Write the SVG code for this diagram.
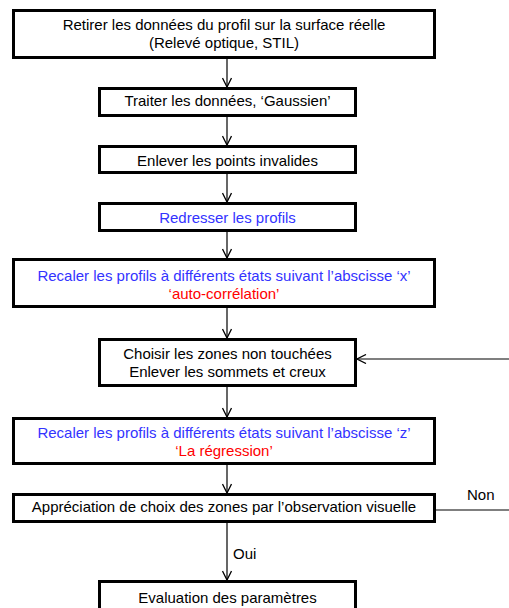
<svg xmlns="http://www.w3.org/2000/svg" width="509" height="608" viewBox="0 0 509 608">
<style>
.box{fill:#fff;stroke:#000;stroke-width:3}
text{font-family:"Liberation Sans",Arial,sans-serif;font-size:15px;fill:#000;text-anchor:middle}
.blue{fill:#3333ff}
.red{fill:#ff0000}
.lbl{text-anchor:start}
.c{stroke:#000;stroke-width:1.2;fill:none}
</style>
<defs>
<marker id="arr" viewBox="0 0 10 10" refX="10" refY="5" markerWidth="10" markerHeight="10" markerUnits="userSpaceOnUse" orient="auto">
<path d="M1,0.5 L10,5 L1,9.5" fill="none" stroke="#000" stroke-width="1.3"/>
</marker>
</defs>
<rect width="509" height="608" fill="#fff"/>
<g id="connectors">
<line class="c" x1="227" y1="59" x2="227" y2="87" marker-end="url(#arr)"/>
<line class="c" x1="227" y1="117" x2="227" y2="145" marker-end="url(#arr)"/>
<line class="c" x1="227" y1="174" x2="227" y2="202" marker-end="url(#arr)"/>
<line class="c" x1="227" y1="232" x2="227" y2="258" marker-end="url(#arr)"/>
<line class="c" x1="227" y1="308" x2="227" y2="338" marker-end="url(#arr)"/>
<line class="c" x1="227" y1="387" x2="227" y2="417" marker-end="url(#arr)"/>
<line class="c" x1="227" y1="465" x2="227" y2="493" marker-end="url(#arr)"/>
<line class="c" x1="227" y1="523" x2="227" y2="580" marker-end="url(#arr)"/>
<line class="c" x1="436" y1="510" x2="509" y2="510"/>
<line class="c" x1="509" y1="359" x2="357" y2="359" marker-end="url(#arr)"/>
<text class="lbl" x="233" y="559">Oui</text>
<text class="lbl" x="467" y="500">Non</text>
</g>
<g id="n1">
<rect class="box" x="13.5" y="10.5" width="421" height="47"/>
<text x="224" y="30">Retirer les données du profil sur la surface réelle</text>
<text x="224" y="48">(Relevé optique, STIL)</text>
</g>
<g id="n2">
<rect class="box" x="99.5" y="88.5" width="256" height="27"/>
<text x="227.5" y="106">Traiter les données, ‘Gaussien’</text>
</g>
<g id="n3">
<rect class="box" x="99.5" y="146.5" width="256" height="26"/>
<text x="227.5" y="166">Enlever les points invalides</text>
</g>
<g id="n4">
<rect class="box" x="99.5" y="203.5" width="256" height="27"/>
<text class="blue" x="227.5" y="223">Redresser les profils</text>
</g>
<g id="n5">
<rect class="box" x="13.5" y="259.5" width="421" height="47"/>
<text class="blue" x="224" y="280.5">Recaler les profils à différents états suivant l’abscisse ‘x’</text>
<text class="red" x="224" y="298.5">‘auto-corrélation’</text>
</g>
<g id="n6">
<rect class="box" x="99.5" y="339.5" width="256" height="46"/>
<text x="227.5" y="359">Choisir les zones non touchées</text>
<text x="227.5" y="377">Enlever les sommets et creux</text>
</g>
<g id="n7">
<rect class="box" x="13.5" y="418.5" width="421" height="45"/>
<text class="blue" x="224" y="438">Recaler les profils à différents états suivant l’abscisse ‘z’</text>
<text class="red" x="224" y="456">‘La régression’</text>
</g>
<g id="n8">
<rect class="box" x="13.5" y="494.5" width="421" height="27"/>
<text x="224" y="512">Appréciation de choix des zones par l’observation visuelle</text>
</g>
<g id="n9">
<rect class="box" x="99.5" y="581.5" width="256" height="40"/>
<text x="227.5" y="602.5">Evaluation des paramètres</text>
</g>
</svg>
